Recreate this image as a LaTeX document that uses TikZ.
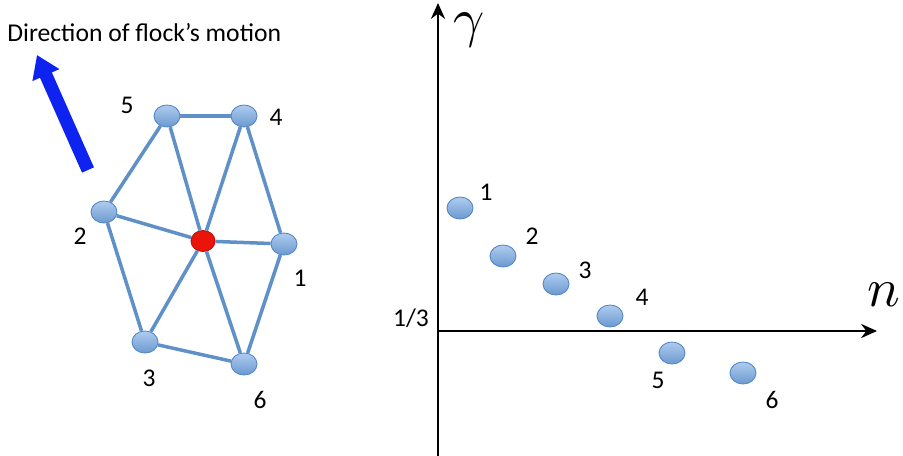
\documentclass[tikz,border=0pt]{standalone}
\usepackage{fontspec}
\setmainfont{Carlito}
\usepackage{tikz}
\usetikzlibrary{arrows.meta,shapes.geometric}
\definecolor{edgeblue}{RGB}{95,145,200}
\definecolor{ballfill}{RGB}{120,170,230}
\definecolor{balldraw}{RGB}{85,135,200}
\definecolor{flockred}{RGB}{235,20,10}
\definecolor{motionblue}{RGB}{15,35,240}
\tikzset{
  ball/.style={ellipse, inner sep=0pt, minimum width=26*0.02cm, minimum height=22*0.02cm,
    top color=ballfill!60!white, bottom color=ballfill!90!black, draw=balldraw, line width=0.5pt},
  leader/.style={ball, minimum width=24*0.02cm, minimum height=21*0.02cm,
    top color=flockred, bottom color=flockred, draw=flockred!80!black},
  link/.style={draw=edgeblue, line width=2pt},
  num/.style={font=\fontsize{14.5}{16}\selectfont, inner sep=0pt},
  axis/.style={line width=1.5pt, -{Stealth[length=9pt, width=8pt]}}
}
\begin{document}
\begin{tikzpicture}[x=0.02cm, y=-0.02cm]
  \useasboundingbox (0,0) rectangle (903,456);
  % direction of motion
  \node[font=\fontsize{14.6}{16}\selectfont, anchor=west, inner sep=0pt] (title) at (7,33) {Direction of flock’s motion};
  \coordinate (tail) at (88,170);
  \coordinate (tip) at (37,55);
  \draw[motionblue, line width=13*0.02cm, -{Triangle[width=28*0.02cm, length=22*0.02cm]}] (tail) -- (tip);
  % neighbours
  \node[ball] (n5) at (167,116) {};
  \node[ball] (n4) at (244,116) {};
  \node[ball] (n2) at (104,212) {};
  \node[ball] (n1) at (284,244) {};
  \node[ball] (n3) at (145,342) {};
  \node[ball] (n6) at (244,364) {};
  \node[leader] (nc) at (203,241) {};
  \foreach \a/\b in {n5/n4, n5/n2, n5/nc, n4/nc, n4/n1, n2/nc, n2/n3, nc/n1, nc/n3, nc/n6, n3/n6, n1/n6}
    \draw[link] (\a) -- (\b);
  \node[num] (l5) at (127,105) {5};
  \node[num] (l4) at (276,117) {4};
  \node[num] (l2) at (80,236) {2};
  \node[num] (l1) at (300,278) {1};
  \node[num] (l3) at (149,378) {3};
  \node[num] (l6) at (260,400) {6};
  % gamma versus n
  \coordinate (origin) at (438,331);
  \coordinate (ytop) at (438,3);
  \coordinate (ybot) at (438,456);
  \coordinate (xend) at (877,331);
  \draw[line width=1.5pt] (origin) -- (ybot);
  \draw[axis] (origin) -- (ytop);
  \draw[axis] (origin) -- (xend);
  \node[scale=3.1, inner sep=0pt] (gamma) at (469,30) {$\gamma$};
  \node[scale=3.1, inner sep=0pt] (nlab) at (884,295) {$n$};
  \node[num] (third) at (411,318) {1/3};
  \node[ball] (p1) at (460,208) {};
  \node[ball] (p2) at (503,256) {};
  \node[ball] (p3) at (556,284) {};
  \node[ball] (p4) at (610,316) {};
  \node[ball] (p5) at (672,353) {};
  \node[ball] (p6) at (743,373) {};
  \node[num] (q1) at (486,192) {1};
  \node[num] (q2) at (532,236) {2};
  \node[num] (q3) at (585,270) {3};
  \node[num] (q4) at (642,297) {4};
  \node[num] (q5) at (658,380) {5};
  \node[num] (q6) at (772,400) {6};
\end{tikzpicture}
\end{document}
